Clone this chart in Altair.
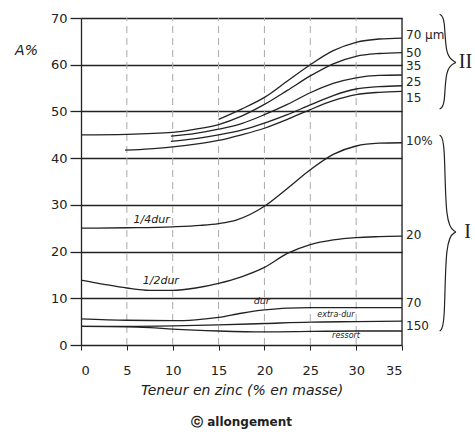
import altair as alt
import pandas as pd

# ---------------- data ----------------
# Group II : annealed, grain size (µm)
a70_x = [15, 17.5, 20, 22.5, 25, 27.5, 30, 32.5, 35]
a70_y = [48.3, 50.5, 53.0, 56.5, 60.0, 63.0, 64.8, 65.5, 65.7]
a50_x = [0, 5, 10, 12.5, 15, 17.5, 20, 22.5, 25, 27.5, 30, 32.5, 35]
a50_y = [45.0, 45.1, 45.5, 46.2, 47.2, 49.0, 51.5, 54.5, 57.6, 60.2, 61.8, 62.4, 62.6]
a35_x = [9.8, 12.5, 15, 17.5, 20, 22.5, 25, 27.5, 30, 32.5, 35]
a35_y = [44.7, 45.3, 46.2, 47.4, 49.3, 51.5, 54.0, 56.0, 57.2, 57.7, 57.8]
a25_x = [9.8, 12.5, 15, 17.5, 20, 22.5, 25, 27.5, 30, 32.5, 35]
a25_y = [43.6, 44.2, 45.0, 46.0, 47.5, 49.3, 51.4, 53.4, 54.8, 55.3, 55.5]
a15_x = [4.8, 7.5, 10, 12.5, 15, 17.5, 20, 22.5, 25, 27.5, 30, 32.5, 35]
a15_y = [41.7, 42.0, 42.4, 43.0, 43.8, 45.0, 46.4, 48.3, 50.4, 52.3, 53.6, 54.1, 54.3]

# Group I : cold-worked tempers
q_x = [0, 5, 10, 13, 15, 17, 20, 22.5, 25, 27.5, 30, 32.5, 35]
q_y = [25.0, 25.1, 25.3, 25.6, 26.0, 26.8, 29.7, 33.5, 37.5, 40.8, 42.6, 43.2, 43.3]
h_x = [0, 2.5, 5, 7.5, 10, 12.5, 15, 17.5, 20, 22.5, 25, 27.5, 30, 32.5, 35]
h_y = [13.9, 13.0, 12.2, 11.7, 11.7, 12.2, 13.2, 14.6, 16.6, 19.6, 21.5, 22.5, 23.0, 23.2, 23.3]
d_x = [0, 5, 10, 12.5, 15, 17.5, 20, 22.5, 25, 30, 35]
d_y = [5.6, 5.3, 5.2, 5.4, 5.9, 6.8, 7.5, 7.9, 8.0, 8.0, 8.0]
e_x = [0, 5, 10, 15, 20, 25, 30, 35]
e_y = [4.0, 4.0, 4.1, 4.3, 4.6, 4.9, 5.0, 5.1]
r_x = [0, 5, 7.5, 10, 15, 20, 25, 30, 35]
r_y = [4.0, 3.9, 3.7, 3.4, 3.0, 2.8, 2.9, 3.0, 3.0]

y_ticks = [0, 10, 20, 30, 40, 50, 60, 70]
x_ticks = [0, 5, 10, 15, 20, 25, 30, 35]
grid_x = [5, 10, 15, 20, 25, 30]

rlab_text = ["70 µm", "50", "35", "25", "15", "10%", "20", "70", "150"]
rlab_y = [66.4, 62.6, 59.7, 56.3, 52.9, 43.7, 23.5, 9.0, 4.1]

clab_text = ["1/4dur", "1/2dur", "dur", "extra-dur", "ressort"]
clab_x = [7.7, 8.7, 19.7, 27.8, 28.9]
clab_y = [26.8, 13.6, 9.4, 6.4, 1.9]
clab_size = [11, 11, 9.5, 8, 8]

brace_name = ["II", "I"]
brace_top = [70.8, 44.9]
brace_mid = [60.5, 24.2]
brace_bot = [50.5, 3.0]

# ---------------- tables ----------------
rows = []
for name, xs, ys in [("70", a70_x, a70_y), ("50", a50_x, a50_y), ("35", a35_x, a35_y),
                     ("25", a25_x, a25_y), ("15", a15_x, a15_y), ("q", q_x, q_y),
                     ("h", h_x, h_y), ("d", d_x, d_y), ("e", e_x, e_y), ("r", r_x, r_y)]:
    for xv, yv in zip(xs, ys):
        rows.append({"curve": name, "x": xv, "y": yv})
curve_df = pd.DataFrame(rows)

XV, XH, XC = 39.7, 39.1, 40.9
brows = []
for n, t, m, b in zip(brace_name, brace_top, brace_mid, brace_bot):
    pts = [(XH, t), (XV, t - 0.7), (XV, m + 1.2), (XC, m), (XC, m), (XV, m - 1.2),
           (XV, b + 0.7), (XH, b)]
    for i, (px, py) in enumerate(pts):
        brows.append({"g": n, "o": i, "x": px, "y": py})
brace_df = pd.DataFrame(brows)
roman_df = pd.DataFrame({"t": brace_name, "y": brace_mid, "x": [41.2, 41.8]})

rlab_df = pd.DataFrame({"t": rlab_text, "y": rlab_y, "x": [35] * len(rlab_text)})
clab_df = pd.DataFrame({"t": clab_text, "x": clab_x, "y": clab_y, "s": clab_size})
vgrid_df = pd.DataFrame({"x": grid_x, "y0": [0] * len(grid_x), "y1": [70] * len(grid_x)})
edge_df = pd.DataFrame({"x": [35], "y0": [0], "y1": [70]})

INK = "#222222"
FONT = "DejaVu Sans"
xs_ = alt.Scale(domain=[0, 35], nice=False, zero=False)
ys_ = alt.Scale(domain=[0, 70], nice=False, zero=False)

x_axis = alt.Axis(values=x_ticks, title="Teneur en zinc (% en masse)", grid=False,
                  tickSize=5, tickColor=INK, labelPadding=14, labelFontSize=13,
                  labelColor=INK, labelFont=FONT, titleFont=FONT, titleFontStyle="italic",
                  titleFontSize=14, titleFontWeight="normal", titleColor=INK,
                  titlePadding=6, domain=False)
y_axis = alt.Axis(values=y_ticks, title="A%", titleAngle=0, titleX=-55, titleY=32,
                  titleAlign="center", titleBaseline="middle", titleFontSize=14,
                  titleFontWeight="normal", titleFontStyle="italic", titleColor=INK,
                  titleFont=FONT, grid=True, gridColor=INK, gridWidth=1.3,
                  tickSize=11, tickColor=INK, tickWidth=1.3, labelPadding=3,
                  labelFontSize=13, labelColor=INK, labelFont=FONT,
                  domainColor=INK, domainWidth=1.3)

vgrid = alt.Chart(vgrid_df).mark_rule(color="#aaaaaa", strokeWidth=1, strokeDash=[7, 5]).encode(
    x=alt.X("x:Q", scale=xs_, axis=x_axis), y=alt.Y("y0:Q", scale=ys_, axis=y_axis), y2="y1:Q")
edge = alt.Chart(edge_df).mark_rule(color=INK, strokeWidth=1.3).encode(
    x=alt.X("x:Q", scale=xs_), y=alt.Y("y0:Q", scale=ys_), y2="y1:Q")
curves = alt.Chart(curve_df).mark_line(color=INK, strokeWidth=1.3, interpolate="monotone").encode(
    x=alt.X("x:Q", scale=xs_), y=alt.Y("y:Q", scale=ys_), detail="curve:N")
braces = alt.Chart(brace_df).mark_line(color=INK, strokeWidth=1.2, interpolate="basis", clip=False).encode(
    x=alt.X("x:Q", scale=xs_), y=alt.Y("y:Q", scale=ys_), detail="g:N", order="o:Q")
roman = alt.Chart(roman_df).mark_text(font="Liberation Serif", fontSize=20, color=INK,
                                      align="left", baseline="middle").encode(
    x=alt.X("x:Q", scale=xs_), y=alt.Y("y:Q", scale=ys_), text="t:N")
rlabels = alt.Chart(rlab_df).mark_text(font=FONT, fontSize=12, color=INK, align="left",
                                       baseline="middle", dx=4).encode(
    x=alt.X("x:Q", scale=xs_), y=alt.Y("y:Q", scale=ys_), text="t:N")
clabels = alt.Chart(clab_df).mark_text(font=FONT, fontStyle="italic", color=INK,
                                       align="center", baseline="middle").encode(
    x=alt.X("x:Q", scale=xs_), y=alt.Y("y:Q", scale=ys_), text="t:N",
    size=alt.Size("s:Q", scale=None, legend=None))

chart = alt.layer(vgrid, edge, curves, braces, roman, rlabels, clabels).properties(
    width=321, height=327,
    autosize=alt.AutoSizeParams(type="none"),
    padding={"left": 81, "top": 18, "right": 73, "bottom": 91},
    title=alt.TitleParams("ⓒ  allongement", orient="bottom", anchor="middle", fontSize=12,
                          fontWeight="bold", font=FONT, color=INK, offset=20),
).configure_view(stroke=None).configure(background="white")

chart.save("out.html", embed_options={"renderer": "svg", "actions": False})
